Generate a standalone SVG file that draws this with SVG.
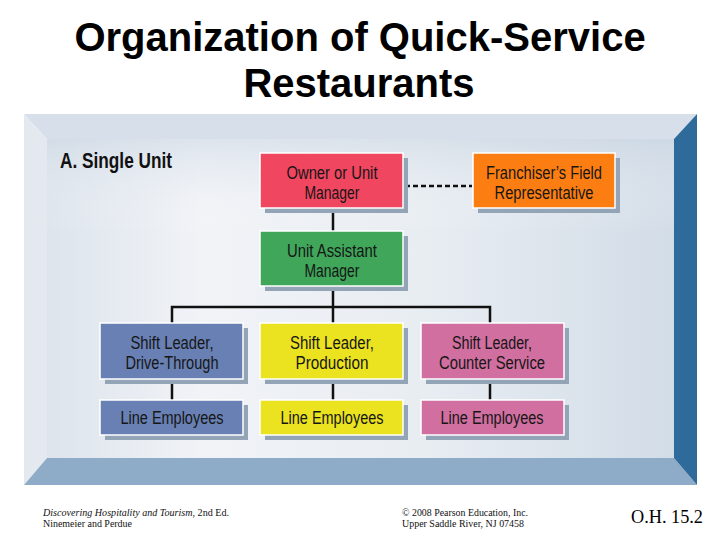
<svg xmlns="http://www.w3.org/2000/svg" width="720" height="540" viewBox="0 0 720 540">
<defs>
<linearGradient id="face" x1="0" y1="0" x2="1" y2="0">
<stop offset="0" stop-color="#dde4ec"/>
<stop offset="0.25" stop-color="#f1f3f7"/>
<stop offset="0.6" stop-color="#e8edf2"/>
<stop offset="1" stop-color="#d2dce7"/>
</linearGradient>
<linearGradient id="faceV" x1="0" y1="0" x2="0" y2="1">
<stop offset="0" stop-color="#c9d5e2" stop-opacity="0.5"/>
<stop offset="0.3" stop-color="#ffffff" stop-opacity="0"/>
<stop offset="1" stop-color="#ffffff" stop-opacity="0"/>
</linearGradient>
</defs>
<style>
.box{stroke:#ffffff;stroke-width:1.5}
.shadow{fill:#93a4b7}
.lbl{font-family:"Liberation Sans",Arial,sans-serif;font-size:17.5px;fill:#161616;text-anchor:middle}
.conn{stroke:#111;stroke-width:2.5;fill:none}
.foot{font-family:"Liberation Serif","Times New Roman",serif;font-size:10px;fill:#111}
</style>
<rect width="720" height="540" fill="#ffffff"/>
<g id="title" font-family="Liberation Sans, Arial, sans-serif" font-weight="bold" font-size="40" text-anchor="middle" fill="#000">
<text x="360" y="51">Organization of Quick-Service</text>
<text x="359" y="97">Restaurants</text>
</g>
<g id="frame">
<polygon points="24,114 697,114 674,139 47,139" fill="#d7e0ea"/>
<polygon points="24,114 47,139 47,458 24,485" fill="#e4e9f0"/>
<polygon points="24,485 47,458 674,458 697,485" fill="#8eabc7"/>
<polygon points="697,114 697,485 674,458 674,139" fill="#2f6b9a"/>
<rect x="47" y="139" width="627" height="319" fill="url(#face)"/>
<rect x="47" y="139" width="627" height="319" fill="url(#faceV)"/>
</g>
<text id="heading" x="60" y="168" font-family="Liberation Sans, Arial, sans-serif" font-weight="bold" font-size="22" fill="#111" textLength="112" lengthAdjust="spacingAndGlyphs">A. Single Unit</text>
<g id="connectors">
<line class="conn" x1="333" y1="208" x2="333" y2="231"/>
<line class="conn" x1="333" y1="286" x2="333" y2="323"/>
<polyline class="conn" stroke-width="3" points="172,323 172,307 490,307 490,323"/>
<line class="conn" x1="172" y1="379" x2="172" y2="400"/>
<line class="conn" x1="333" y1="379" x2="333" y2="400"/>
<line class="conn" x1="490" y1="379" x2="490" y2="400"/>
<line class="conn" x1="405" y1="186" x2="472" y2="186" stroke-width="2" stroke-dasharray="5,3"/>
</g>
<g id="owner">
<rect class="shadow" x="265" y="158" width="143" height="55"/>
<rect class="box" x="260" y="153" width="143" height="55" fill="#f04660"/>
<text class="lbl" x="332" y="179" textLength="91" lengthAdjust="spacingAndGlyphs">Owner or Unit</text>
<text class="lbl" x="332" y="199" textLength="55" lengthAdjust="spacingAndGlyphs">Manager</text>
</g>
<g id="franchiser">
<rect class="shadow" x="478" y="158" width="142" height="55"/>
<rect class="box" x="473" y="153" width="142" height="55" fill="#fc7e12"/>
<text class="lbl" x="544" y="179" textLength="116" lengthAdjust="spacingAndGlyphs">Franchiser’s Field</text>
<text class="lbl" x="544" y="199" textLength="99" lengthAdjust="spacingAndGlyphs">Representative</text>
</g>
<g id="assistant">
<rect class="shadow" x="265" y="236" width="143" height="55"/>
<rect class="box" x="260" y="231" width="143" height="55" fill="#3fa65a"/>
<text class="lbl" x="332" y="257" textLength="90" lengthAdjust="spacingAndGlyphs">Unit Assistant</text>
<text class="lbl" x="332" y="277" textLength="55" lengthAdjust="spacingAndGlyphs">Manager</text>
</g>
<g id="shift-drive">
<rect class="shadow" x="105" y="328" width="143" height="56"/>
<rect class="box" x="100" y="323" width="143" height="56" fill="#6880b3"/>
<text class="lbl" x="172" y="349" textLength="83" lengthAdjust="spacingAndGlyphs">Shift Leader,</text>
<text class="lbl" x="172" y="369" textLength="93" lengthAdjust="spacingAndGlyphs">Drive-Through</text>
</g>
<g id="shift-production">
<rect class="shadow" x="265" y="328" width="143" height="56"/>
<rect class="box" x="260" y="323" width="143" height="56" fill="#ebe220"/>
<text class="lbl" x="332" y="349" textLength="84" lengthAdjust="spacingAndGlyphs">Shift Leader,</text>
<text class="lbl" x="332" y="369" textLength="73" lengthAdjust="spacingAndGlyphs">Production</text>
</g>
<g id="shift-counter">
<rect class="shadow" x="426" y="328" width="143" height="56"/>
<rect class="box" x="421" y="323" width="143" height="56" fill="#d06fa0"/>
<text class="lbl" x="492" y="349" textLength="80" lengthAdjust="spacingAndGlyphs">Shift Leader,</text>
<text class="lbl" x="492" y="369" textLength="106" lengthAdjust="spacingAndGlyphs">Counter Service</text>
</g>
<g id="line-drive">
<rect class="shadow" x="105" y="405" width="143" height="35"/>
<rect class="box" x="100" y="400" width="143" height="35" fill="#6880b3"/>
<text class="lbl" x="172" y="424" textLength="103" lengthAdjust="spacingAndGlyphs">Line Employees</text>
</g>
<g id="line-production">
<rect class="shadow" x="265" y="405" width="143" height="35"/>
<rect class="box" x="260" y="400" width="143" height="35" fill="#ebe220"/>
<text class="lbl" x="332" y="424" textLength="103" lengthAdjust="spacingAndGlyphs">Line Employees</text>
</g>
<g id="line-counter">
<rect class="shadow" x="426" y="405" width="143" height="35"/>
<rect class="box" x="421" y="400" width="143" height="35" fill="#d06fa0"/>
<text class="lbl" x="492" y="424" textLength="103" lengthAdjust="spacingAndGlyphs">Line Employees</text>
</g>
<g id="footer">
<text class="foot" x="43" y="516" textLength="186" lengthAdjust="spacingAndGlyphs"><tspan font-style="italic">Discovering Hospitality and Tourism</tspan>, 2nd Ed.</text>
<text class="foot" x="43" y="527" textLength="89" lengthAdjust="spacingAndGlyphs">Ninemeier and Perdue</text>
<text class="foot" x="402" y="516" textLength="126" lengthAdjust="spacingAndGlyphs">© 2008 Pearson Education, Inc.</text>
<text class="foot" x="402" y="527" textLength="122" lengthAdjust="spacingAndGlyphs">Upper Saddle River, NJ 07458</text>
<text x="631" y="523" font-family="Liberation Serif, Times New Roman, serif" font-size="19" fill="#000" textLength="72" lengthAdjust="spacingAndGlyphs">O.H. 15.2</text>
</g>
</svg>
